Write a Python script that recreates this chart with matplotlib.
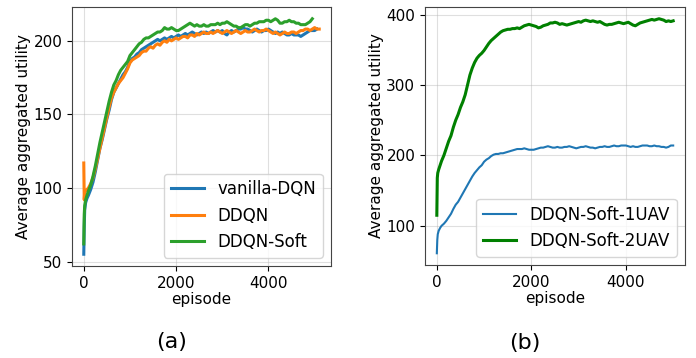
import numpy as np
import matplotlib
matplotlib.use("Agg")
import matplotlib.pyplot as plt

# ---------------- data (a) ----------------
episodes_a = [0, 10, 20, 40, 70] + list(range(100, 5101, 50))

vanilla_dqn = [
    55, 74, 85, 90, 93,
    95, 99, 104, 111, 119, 127, 133, 140, 147, 153,
    160, 165, 168, 171, 174, 177, 179, 182, 186, 188,
    189, 191, 192, 194, 195, 196, 197, 198, 199, 200,
    201, 200, 201, 202, 201, 202, 203, 202, 203, 204,
    203, 204, 205, 204, 205, 206, 205, 204, 205, 206,
    205, 206, 205, 206, 207, 206, 207, 206, 207, 205,
    204, 206, 207, 206, 207, 208, 208, 209, 208, 208,
    207, 206, 207, 208, 207, 206, 207, 207, 208, 207,
    206, 205, 206, 205, 206, 205, 204, 204, 205, 204,
    204, 204, 203, 204, 205, 206, 207, 207, 207, 208,
]

ddqn = [
    117, 92, 97, 98, 99,
    100, 103, 107, 113, 120, 127, 134, 141, 148, 155,
    161, 165, 168, 171, 173, 175, 178, 181, 185, 187,
    188, 189, 190, 192, 193, 193, 195, 196, 195, 197,
    198, 197, 199, 200, 199, 201, 200, 201, 202, 201,
    202, 203, 203, 202, 204, 204, 203, 205, 204, 205,
    206, 205, 205, 206, 205, 206, 207, 206, 205, 206,
    207, 206, 205, 206, 207, 206, 205, 206, 207, 206,
    206, 207, 208, 207, 206, 207, 207, 208, 207, 206,
    205, 206, 205, 204, 205, 206, 205, 205, 206, 206,
    205, 206, 207, 207, 208, 208, 207, 208, 209, 208,
    208,
]

ddqn_soft = [
    62, 82, 88, 92, 95,
    98, 102, 108, 115, 123, 131, 138, 145, 152, 159,
    165, 170, 173, 177, 180, 182, 184, 186, 190, 192,
    194, 196, 198, 199, 201, 202, 202, 203, 204, 205,
    206, 206, 207, 209, 208, 208, 209, 208, 207, 207,
    208, 209, 210, 211, 212, 211, 210, 211, 210, 210,
    211, 210, 210, 211, 211, 211, 212, 211, 212, 212,
    213, 212, 211, 210, 210, 209, 209, 210, 211, 211,
    210, 211, 212, 212, 213, 213, 213, 214, 214, 213,
    214, 215, 214, 212, 212, 213, 213, 214, 213, 213,
    212, 212, 211, 211, 211, 212, 213, 215,
]

# ---------------- data (b) ----------------
episodes_b = [0, 10, 20, 40, 70] + list(range(100, 5001, 50))

soft_1uav = [
    61, 80, 88, 93, 97,
    100, 103, 107, 112, 117, 124, 130, 134, 140, 146,
    152, 158, 164, 170, 175, 179, 183, 186, 191, 194,
    196, 199, 201, 202, 202, 203, 203, 204, 205, 206,
    207, 208, 209, 209, 209, 210, 209, 208, 208, 208,
    209, 210, 211, 211, 212, 213, 212, 211, 211, 212,
    211, 211, 212, 212, 213, 212, 211, 210, 211, 212,
    212, 213, 212, 211, 211, 210, 211, 212, 212, 213,
    212, 212, 213, 214, 213, 213, 214, 214, 214, 213,
    212, 213, 212, 212, 213, 214, 214, 214, 213, 213,
    214, 213, 213, 212, 212, 211, 212, 214, 214,
]

soft_2uav = [
    115, 168, 175, 180, 186,
    192, 200, 210, 220, 228, 240, 250, 258, 268, 276,
    286, 300, 314, 324, 332, 338, 342, 345, 349, 354,
    359, 363, 366, 369, 372, 375, 377, 378, 379, 379,
    380, 380, 381, 380, 382, 384, 385, 386, 385, 384,
    383, 381, 382, 384, 385, 386, 388, 388, 389, 388,
    386, 387, 386, 385, 386, 387, 388, 389, 390, 389,
    391, 392, 391, 390, 391, 390, 389, 390, 388, 386,
    385, 386, 386, 387, 388, 389, 388, 387, 388, 389,
    387, 385, 384, 386, 388, 389, 390, 391, 392, 393,
    392, 393, 394, 393, 392, 390, 391, 390, 391,
]

labels_a = ["vanilla-DQN", "DDQN", "DDQN-Soft"]
labels_b = ["DDQN-Soft-1UAV", "DDQN-Soft-2UAV"]

W, H = 696, 358
fig = plt.figure(figsize=(W / 100, H / 100), dpi=100)

FS = 11
LFS = 12
ax1 = fig.add_axes([72 / W, (H - 266) / H, (331 - 72) / W, (266 - 7) / H])
ax2 = fig.add_axes([425 / W, (H - 265) / H, (685 - 425) / W, (265 - 7) / H])

ax1.plot(episodes_a[:len(vanilla_dqn)], vanilla_dqn, color="tab:blue", lw=2.2, label=labels_a[0])
ax1.plot(episodes_a[:len(ddqn)], ddqn, color="tab:orange", lw=2.2, label=labels_a[1])
ax1.plot(episodes_a[:len(ddqn_soft)], ddqn_soft, color="tab:green", lw=2.2, label=labels_a[2])

ax2.plot(episodes_b[:len(soft_1uav)], soft_1uav, color="tab:blue", lw=1.5, label=labels_b[0])
ax2.plot(episodes_b[:len(soft_2uav)], soft_2uav, color="green", lw=2.2, label=labels_b[1])

ax1.set_yticks([50, 100, 150, 200])
ax2.set_yticks([100, 200, 300, 400])
for ax in (ax1, ax2):
    ax.set_xticks([0, 2000, 4000])
    ax.grid(True, color="#b0b0b0", alpha=0.4, linewidth=0.8)
    ax.tick_params(labelsize=FS)
    ax.set_xlabel("episode", fontsize=FS, labelpad=1)
    ax.set_ylabel("Average aggregated utility", fontsize=FS, labelpad=2)
    for s in ax.spines.values():
        s.set_color("#444444")

ax1.legend(loc="lower right", fontsize=LFS)
ax2.legend(loc="lower right", fontsize=LFS)

fig.text(172 / W, 1 - 342 / H, "(a)", fontsize=16, ha="center", va="center")
fig.text(525 / W, 1 - 343 / H, "(b)", fontsize=16, ha="center", va="center")

fig.savefig("out.png", dpi=100)
